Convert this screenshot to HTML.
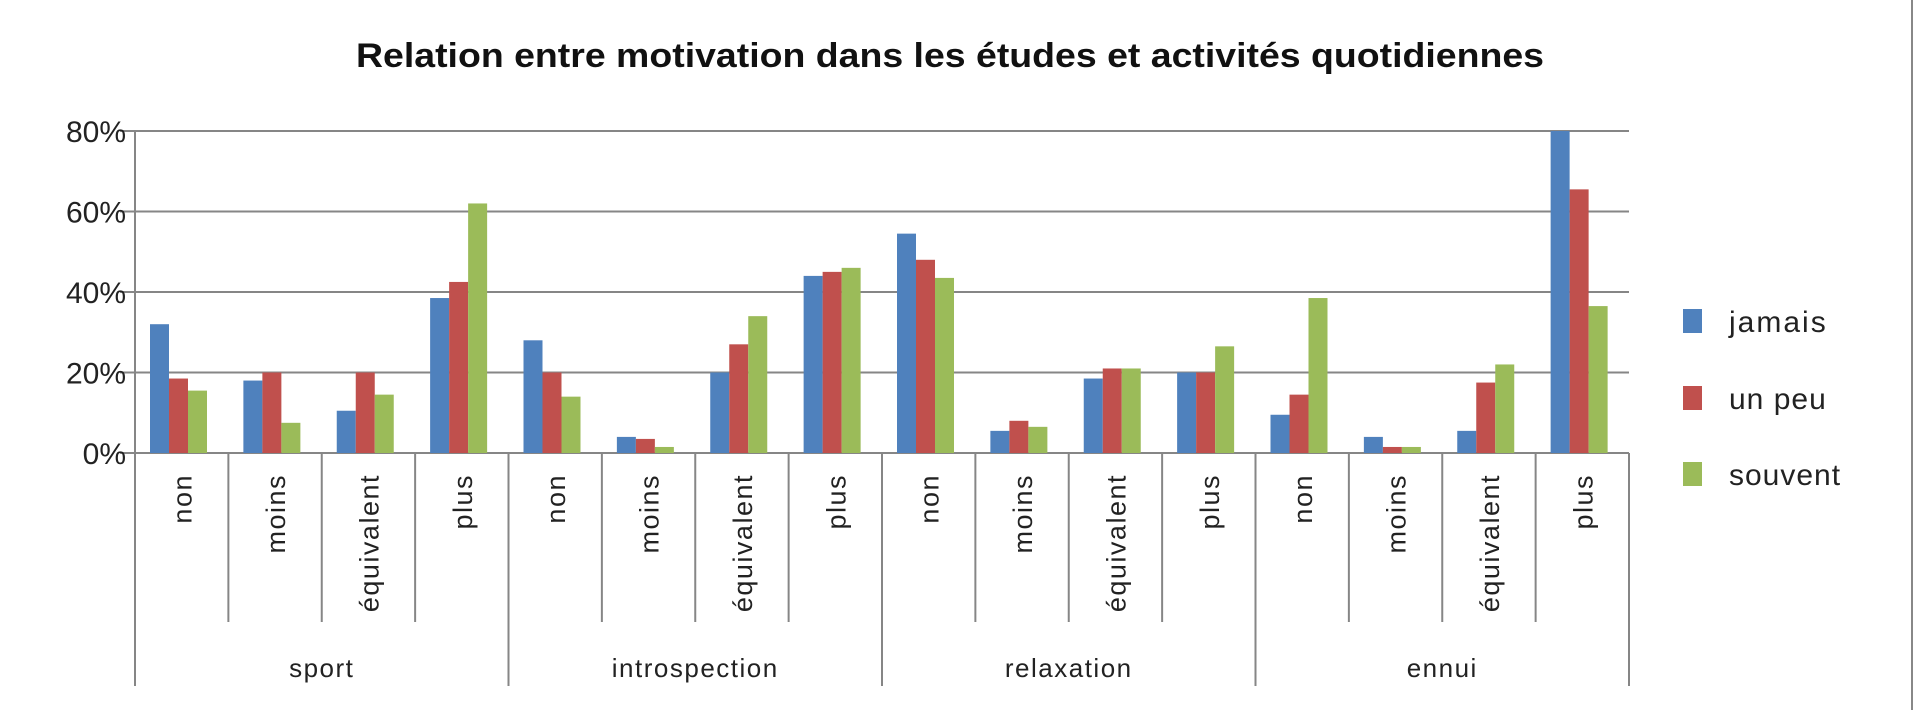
<!DOCTYPE html>
<html><head><meta charset="utf-8"><style>
html,body{margin:0;padding:0;background:#fff;}
svg{display:block;font-family:"Liberation Sans","DejaVu Sans",sans-serif;}
</style></head><body>
<svg id="chart" width="1920" height="710" viewBox="0 0 1920 710">
<rect x="0" y="0" width="1920" height="710" fill="#fff"/>
<line x1="1912" y1="0" x2="1912" y2="710" stroke="#888" stroke-width="2"/>
<text x="950" y="67" text-anchor="middle" font-size="34" font-weight="bold" fill="#111" textLength="1188" lengthAdjust="spacingAndGlyphs">Relation entre motivation dans les études et activités quotidiennes</text>
<g id="grid"></g><g id="bars"></g><g id="axis"></g>
<g>
<rect x="1683" y="309" width="19" height="24" fill="#4f81bd"/>
<text x="1729" y="332" font-size="30" fill="#222" letter-spacing="2">jamais</text>
<rect x="1683" y="386" width="19" height="24" fill="#c0504d"/>
<text x="1729" y="409" font-size="30" fill="#222" letter-spacing="1">un peu</text>
<rect x="1683" y="462" width="19" height="24" fill="#9bbb59"/>
<text x="1729" y="485" font-size="30" fill="#222" letter-spacing="1">souvent</text>
</g>
</svg>
<script>
const groups = ["sport","introspection","relaxation","ennui"];
const subcats = ["non","moins","équivalent","plus"];
const seriesNames = ["jamais","un peu","souvent"];
const jamais = [32,18,10.5,38.5, 28,4,20,44, 54.5,5.5,18.5,20, 9.5,4,5.5,80];
const unPeu = [18.5,20,20,42.5, 20,3.5,27,45, 48,8,21,20, 14.5,1.5,17.5,65.5];
const souvent = [15.5,7.5,14.5,62, 14,1.5,34,46, 43.5,6.5,21,26.5, 38.5,1.5,22,36.5];
const yTicks = [0,20,40,60,80];
const yTickLabels = ["0%","20%","40%","60%","80%"];

const NS="http://www.w3.org/2000/svg";
const L=135,R=1629,Y0=453,Y80=131;
const n=groups.length*subcats.length;
const cw=(R-L)/n;
const y=v=>Y0-(v/80)*(Y0-Y80);
const x=i=>L+i*cw;
const colors=["#4f81bd","#c0504d","#9bbb59"];
const series=[jamais,unPeu,souvent];
function mk(tag,attrs,parent){const e=document.createElementNS(NS,tag);for(const k in attrs)e.setAttribute(k,attrs[k]);parent.appendChild(e);return e;}
const grid=document.getElementById('grid'),bars=document.getElementById('bars'),axis=document.getElementById('axis');
yTicks.forEach((t,i)=>{
  const gl=mk('line',{x1:L-15,x2:R,y1:y(t),y2:y(t),stroke:'#868686','stroke-width':2},grid);
  
  
  const tl=mk('text',{x:126,y:y(t)+11,'text-anchor':'end','font-size':30,fill:'#222'},axis);
  tl.textContent=yTickLabels[i];
  
  
});
const bw=19,off=15;
for(let i=0;i<n;i++){
  series.forEach((s,k)=>{
    const r=mk('rect',{x:x(i)+off+k*bw,y:y(s[i]),width:bw,height:Y0-y(s[i]),fill:colors[k]},bars);
    
    
  });
}
const ya=mk('line',{x1:L,x2:L,y1:Y80,y2:686,stroke:'#868686','stroke-width':2},axis);


for(let i=1;i<=n;i++){
  const major=(i%subcats.length===0);
  const ln=mk('line',{x1:x(i),x2:x(i),y1:Y0,y2:major?686:622,stroke:'#868686','stroke-width':2},axis);
  
  
}
for(let i=0;i<n;i++){
  const cx=x(i)+cw/2+10;
  const t=mk('text',{x:0,y:0,'text-anchor':'end','font-size':27,fill:'#222','letter-spacing':1.5,transform:`translate(${cx},474) rotate(-90)`},axis);
  t.textContent=subcats[i%subcats.length];
  
  
}
groups.forEach((g,j)=>{
  const t=mk('text',{x:x(j*subcats.length)+cw*subcats.length/2,y:677,'text-anchor':'middle','font-size':26,fill:'#222','letter-spacing':1.5},axis);
  t.textContent=g;
  
  
});
</script>
</body></html>
